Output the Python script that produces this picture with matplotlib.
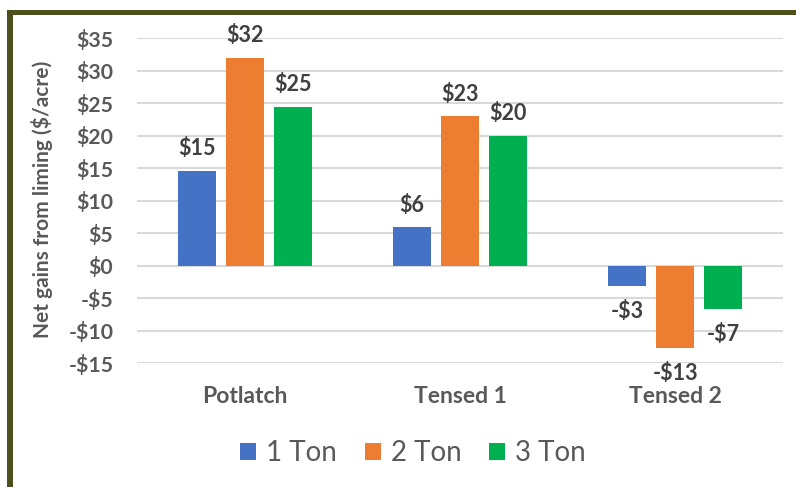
import matplotlib
matplotlib.use("Agg")
import matplotlib.pyplot as plt
import numpy as np
from matplotlib.patches import Rectangle, Patch

plt.rcParams['font.family'] = ['Lato', 'DejaVu Sans']

categories = ["Potlatch", "Tensed 1", "Tensed 2"]
series_names = ["1 Ton", "2 Ton", "3 Ton"]
ton1 = [14.6, 5.9, -3.1]
ton2 = [32.0, 23.0, -12.6]
ton3 = [24.5, 20.0, -6.6]
labels1 = ["$15", "$6", "-$3"]
labels2 = ["$32", "$23", "-$13"]
labels3 = ["$25", "$20", "-$7"]
yticks = [35, 30, 25, 20, 15, 10, 5, 0, -5, -10, -15]
ytick_labels = ["$35", "$30", "$25", "$20", "$15", "$10", "$5", "$0", "-$5", "-$10", "-$15"]
colors = ["#4472C4", "#ED7D31", "#00B050"]

W, H = 796, 487
fig = plt.figure(figsize=(W / 100, H / 100), dpi=100)
ax = fig.add_axes([137 / W, 1 - 363.3 / H, 646 / W, 325 / H])

x = np.arange(len(categories))
bw = 0.176
step = 0.223
all_vals = [ton1, ton2, ton3]
all_labels = [labels1, labels2, labels3]
for i, (vals, labs) in enumerate(zip(all_vals, all_labels)):
    xs = x + (i - 1) * step
    ax.bar(xs, vals, width=bw, color=colors[i], zorder=3, label=series_names[i])
    for xx, v, lab in zip(xs, vals, labs):
        off = 16 if v >= 0 else -18.5
        ax.annotate(lab, (xx, v), xytext=(0, off), textcoords="offset points",
                    ha="center", va="center", fontsize=15.5, fontweight="bold",
                    color="#404040")

ax.set_xlim(-0.5, 2.5)
ax.set_ylim(-15, 35)
ax.set_yticks(yticks)
ax.set_yticklabels(ytick_labels)
ax.set_xticks(x)
ax.set_xticklabels(categories)
ax.grid(axis="y", color="#d9d9d9", linewidth=1.5, zorder=0)
for s in ax.spines.values():
    s.set_visible(False)
ax.tick_params(axis="both", length=0)
ax.tick_params(axis="y", pad=17, labelsize=15.3, labelcolor="#595959")
ax.tick_params(axis="x", pad=16, labelsize=16.5, labelcolor="#595959")
for t in ax.get_yticklabels() + ax.get_xticklabels():
    t.set_fontweight("bold")
ax.set_ylabel("Net gains from liming ($/acre)", fontsize=15, fontweight="bold",
              color="#595959")
ax.yaxis.set_label_coords((53 - 137) / 646, 0.505)

handles = [Patch(facecolor=c) for c in colors]
leg = fig.legend(handles, series_names, loc="center", bbox_to_anchor=(413 / W, 1 - 453 / H),
                 ncol=3, frameon=False, fontsize=20, handlelength=0.58, handleheight=0.58,
                 handletextpad=0.35, columnspacing=1.0)
for t in leg.get_texts():
    t.set_color("#595959")

border = "#4F4F1E"
fig.add_artist(Rectangle((7 / W, 0), 6 / W, 1 - 10 / H, transform=fig.transFigure,
                         facecolor=border, edgecolor="none"))
fig.add_artist(Rectangle((7 / W, 1 - 15 / H), 1, 5 / H, transform=fig.transFigure,
                         facecolor=border, edgecolor="none"))

fig.savefig("out.png", dpi=100)
